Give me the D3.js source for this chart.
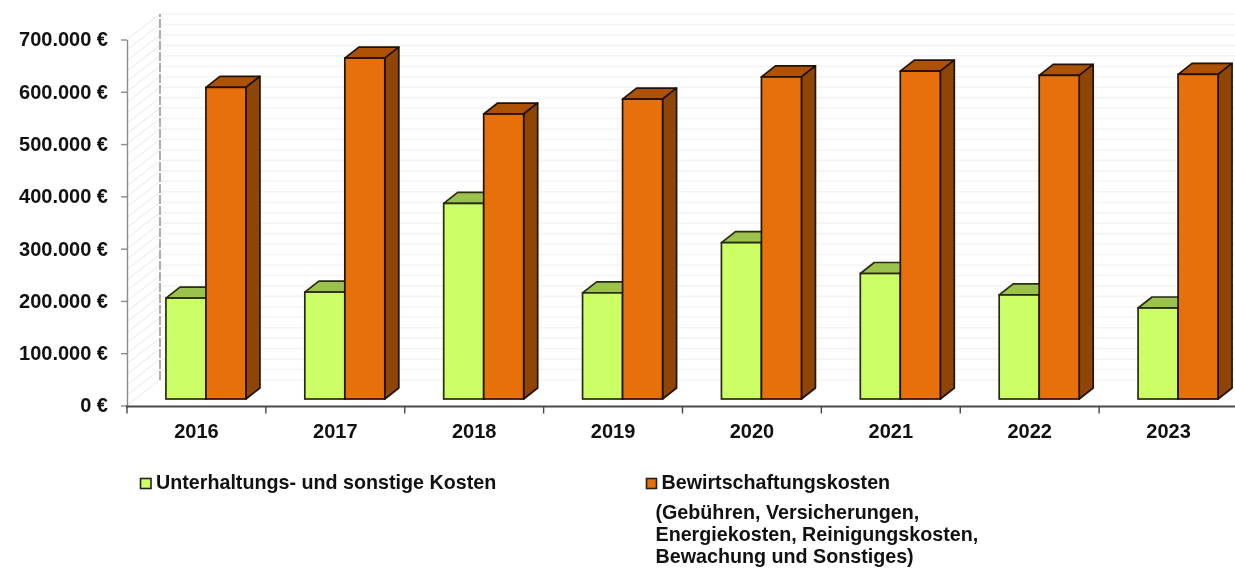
<!DOCTYPE html>
<html>
<head>
<meta charset="utf-8">
<script src="https://cdn.jsdelivr.net/npm/d3@7"></script>
<style>
  html, body { margin: 0; padding: 0; background: #fff; }
  svg { display: block; filter: blur(0.35px); }
  text { font-family: "Liberation Sans", Arial, sans-serif; font-weight: bold; fill: #111; }
</style>
</head>
<body>
<svg id="chart" width="1235" height="569"></svg>
<script>
// values
var years = ["2016", "2017", "2018", "2019", "2020", "2021", "2022", "2023"];
var unterhaltung = [193000, 204500, 374000, 203000, 299000, 240000, 199000, 174000];
var bewirtschaftung = [596000, 652000, 545000, 573500, 616000, 627000, 619000, 621000];
var yTicks = [0, 100000, 200000, 300000, 400000, 500000, 600000, 700000];
var gridVals = d3.range(0, 720000, 20000);
var legendGreen = "Unterhaltungs- und sonstige Kosten";
var legendOrange = "Bewirtschaftungskosten";
var legendNote = ["(Gebühren, Versicherungen,", "Energiekosten, Reinigungskosten,", "Bewachung und Sonstiges)"];

const wallDx = 33, wallDy = -25.5; // offset front plane -> back wall
const barDx = 14, barDy = -11;     // depth of one bar
const baseShift = -6.5;            // bars stand a bit behind the front plane

var svg = d3.select("#chart");

var x = d3.scaleBand().domain(years).range([127, 1238]);
var y = d3.scaleLinear().domain([0, 700000]).range([405.5, 39.5]);

// back wall and side wall gridlines
var grid = svg.append("g");
grid.selectAll("line.back").data(gridVals).join("line")
    .attr("class", "back")
    .attr("x1", 127 + wallDx).attr("x2", 1235)
    .attr("y1", d => y(d) + wallDy).attr("y2", d => y(d) + wallDy)
    .attr("stroke", "#f4f4f4").attr("stroke-width", 1.6);
grid.selectAll("line.side").data(gridVals).join("line")
    .attr("class", "side")
    .attr("x1", 127).attr("x2", 127 + wallDx)
    .attr("y1", d => y(d)).attr("y2", d => y(d) + wallDy)
    .attr("stroke", "#f0f0f0").attr("stroke-width", 1.3);

// dashed corner of the walls
svg.append("line")
    .attr("x1", 127 + wallDx).attr("x2", 127 + wallDx)
    .attr("y1", y(0) + wallDy).attr("y2", y(700000) + wallDy)
    .attr("stroke", "#9a9a9a").attr("stroke-width", 1.6).attr("stroke-dasharray", "9,2");

// axes
var yAxis = d3.axisLeft(y).tickValues(yTicks).tickSize(6).tickPadding(13).tickSizeOuter(0)
    .tickFormat(d => d3.format(",")(d).replace(/,/g, ".") + " €");
var yG = svg.append("g").attr("transform", "translate(127,0)").call(yAxis);
yG.selectAll("path, line").attr("stroke", "#8c8c8c").attr("stroke-width", 1.4);
yG.selectAll("text").style("font-size", "20px");

var xG = svg.append("g").attr("transform", "translate(0,406.5)");
xG.append("line").attr("x1", 126).attr("x2", 1235).attr("stroke", "#4a4a4a").attr("stroke-width", 2);
xG.selectAll("line.tick").data(years).join("line")
    .attr("class", "tick")
    .attr("x1", d => x(d)).attr("x2", d => x(d)).attr("y1", 0).attr("y2", 7)
    .attr("stroke", "#444").attr("stroke-width", 1.4);
xG.selectAll("text").data(years).join("text")
    .attr("x", d => x(d) + x.bandwidth() / 2)
    .attr("y", 31)
    .attr("text-anchor", "middle")
    .style("font-size", "20px")
    .text(d => d);

// one 3d bar, green sits left of orange
function drawBar(g, left, w, val, front, top, side, edge) {
    var y0 = y(0) + baseShift, y1 = y(val) + baseShift;
    var pts = [[left, y1], [left + barDx, y1 + barDy], [left + w + barDx, y1 + barDy], [left + w, y1]];
    g.append("polygon").attr("points", pts.join(" "))
        .attr("fill", top).attr("stroke", edge).attr("stroke-width", 1.7).attr("stroke-linejoin", "round");
    pts = [[left + w, y1], [left + w + barDx, y1 + barDy], [left + w + barDx, y0 + barDy], [left + w, y0]];
    g.append("polygon").attr("points", pts.join(" "))
        .attr("fill", side).attr("stroke", edge).attr("stroke-width", 1.7).attr("stroke-linejoin", "round");
    g.append("rect").attr("x", left).attr("y", y1).attr("width", w).attr("height", y0 - y1)
        .attr("fill", front).attr("stroke", edge).attr("stroke-width", 1.7);
}

var barW = 40;
var bars = svg.append("g");
years.forEach(function(yr, i) {
    var left = x(yr) + x.bandwidth() / 2 - barW + 9.5;
    var g = bars.append("g");
    drawBar(g, left, barW, unterhaltung[i], "#ccff66", "#9bc24d", "#9bc24d", "#2a2a12");
    drawBar(g, left + barW, barW, bewirtschaftung[i], "#e8700a", "#ad5205", "#8e4505", "#1f1206");
});

// legend
var leg = svg.append("g");
leg.append("rect").attr("x", 140.5).attr("y", 478.5).attr("width", 10.5).attr("height", 10)
    .attr("fill", "#ccff66").attr("stroke", "#222").attr("stroke-width", 1.6);
leg.append("text").attr("x", 156).attr("y", 489).style("font-size", "19.7px").text(legendGreen);
leg.append("rect").attr("x", 646.5).attr("y", 478.5).attr("width", 10).attr("height", 10)
    .attr("fill", "#e8700a").attr("stroke", "#222").attr("stroke-width", 1.6);
leg.append("text").attr("x", 661.5).attr("y", 489).style("font-size", "19.7px").text(legendOrange);
leg.selectAll("text.note").data(legendNote).join("text")
    .attr("class", "note")
    .attr("x", 655.5)
    .attr("y", (d, i) => 519 + i * 22)
    .style("font-size", "19.7px")
    .text(d => d);
</script>
</body>
</html>
